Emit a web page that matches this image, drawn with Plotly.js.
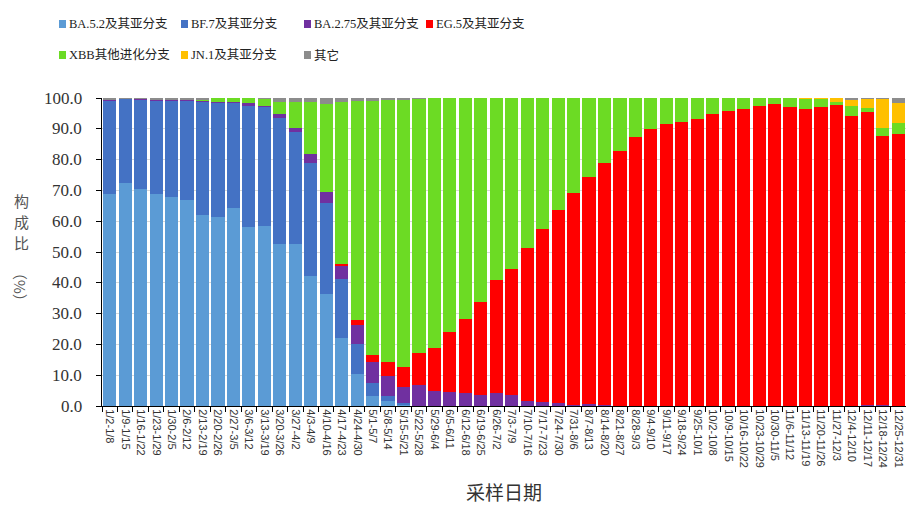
<!DOCTYPE html>
<html>
<head>
<meta charset="utf-8">
<script src="https://cdn.plot.ly/plotly-3.0.1.min.js"></script>
<style>html,body{margin:0;padding:0;background:#fff;}#chart{width:906px;height:505px;}</style>
</head>
<body>
<div id="chart"></div>
<script>
const weeks = ["1/2-1/8","1/9-1/15","1/16-1/22","1/23-1/29","1/30-2/5","2/6-2/12","2/13-2/19","2/20-2/26","2/27-3/5","3/6-3/12","3/13-3/19","3/20-3/26","3/27-4/2","4/3-4/9","4/10-4/16","4/17-4/23","4/24-4/30","5/1-5/7","5/8-5/14","5/15-5/21","5/22-5/28","5/29-6/4","6/5-6/11","6/12-6/18","6/19-6/25","6/26-7/2","7/3-7/9","7/10-7/16","7/17-7/23","7/24-7/30","7/31-8/6","8/7-8/13","8/14-8/20","8/21-8/27","8/28-9/3","9/4-9/10","9/11-9/17","9/18-9/24","9/25-10/1","10/2-10/8","10/9-10/15","10/16-10/22","10/23-10/29","10/30-11/5","11/6-11/12","11/13-11/19","11/20-11/26","11/27-12/3","12/4-12/10","12/11-12/17","12/18-12/24","12/25-12/31"];
const yTicks = [0,10,20,30,40,50,60,70,80,90,100];

const ba52 = [68.8,72.3,70.6,68.8,67.7,66.8,61.9,61.5,64.3,58.1,58.4,52.6,52.6,42.2,36.4,22.0,10.4,3.2,1.5,0.2,0,0,0,0,0,0,0,0,0,0,0,0,0,0,0,0,0,0,0,0,0,0,0,0,0,0,0,0,0,0,0,0];
const bf7 = [30.1,27.4,28.8,30.2,31.3,32.2,36.8,37.0,34.2,39.3,38.6,40.9,36.5,36.6,29.6,19.1,9.7,4.2,1.7,0.7,0,0,0,0,0,0,0,0,0,0,0,0,0,0,0,0,0,0,0,0,0,0,0,0,0,0,0,0,0,0,0,0];
const ba275 = [0.4,0.1,0.3,0.3,0.3,0.3,0.2,0.2,0.2,0.9,0.4,1.2,1.3,3.0,3.4,4.4,6.1,6.9,6.5,5.4,6.8,5.0,4.7,4.3,3.6,4.1,3.6,1.7,1.3,0.9,0.2,0.5,0.2,0.1,0,0,0,0,0,0,0,0,0,0,0,0,0,0,0,0.3,0.4,0];
const eg5 = [0,0,0,0,0,0,0,0,0,0,0,0,0,0,0,0.6,1.6,2.3,4.6,6.3,10.3,13.7,19.2,23.8,30.1,36.7,40.8,49.5,56.1,62.7,68.8,73.7,78.6,82.8,87.4,89.8,91.6,92.2,93.2,94.8,95.9,96.3,97.4,98.1,97.0,96.3,97.0,97.7,94.3,95.3,87.3,88.3];
const xbb = [0,0,0,0,0,0,0.3,1.3,1.3,1.7,2.2,4.1,8.3,16.9,28.7,52.6,71.3,82.5,85.1,86.8,82.5,81.3,76.1,71.9,66.3,59.2,55.6,48.8,42.6,36.4,31.0,25.8,21.2,17.1,12.6,10.2,8.4,7.8,6.8,5.2,4.1,3.7,2.6,1.9,3.0,3.4,2.6,1.1,3.1,1.0,2.5,3.5];
const jn1 = [0,0,0,0,0,0,0,0,0,0,0,0,0,0,0,0,0,0,0,0,0,0,0,0,0,0,0,0,0,0,0,0,0,0,0,0,0,0,0,0,0,0,0,0,0,0.2,0.3,1.2,2.0,3.0,9.6,6.7];
const others = [0.7,0.2,0.3,0.7,0.7,0.7,0.8,0,0,0,0.4,1.2,1.3,1.3,1.9,1.3,0.9,0.9,0.6,0.6,0.4,0,0,0,0,0,0,0,0,0,0,0,0,0,0,0,0,0,0,0,0,0,0,0,0,0.1,0.1,0,0.6,0.4,0.2,1.5];

const seriesNames = ["BA.5.2及其亚分支","BF.7及其亚分支","BA.2.75及其亚分支","EG.5及其亚分支","XBB其他进化分支","JN.1及其亚分支","其它"];
const seriesValues = [ba52, bf7, ba275, eg5, xbb, jn1, others];
const seriesColors = ["#5B9BD5","#4472C4","#7030A0","#FF0000","#6CDB24","#FFC000","#8C8C8C"];
const yTitleChars = ["构","成","比"];

const serif = '"Liberation Serif", "Noto Sans CJK SC", serif';
const cjk = '"Noto Sans CJK SC", sans-serif';

const W = 906, H = 505, ML = 102, MR = 0, MT = 98, MB = 99;
const PW = W - ML - MR, PH = H - MT - MB;
const px = v => (v - ML) / PW;
const py = v => (H - MB - v) / PH;

const traces = seriesNames.map((n, i) => ({
  type: "bar",
  name: n,
  x: weeks,
  y: seriesValues[i],
  marker: {color: seriesColors[i]},
  hoverinfo: "x+y+name"
}));

// legend layout (pixel positions of legend entries)
const legendCols = [59, 181, 304, 426];
const legendRows = [24, 55];
const shapes = [], annotations = [];
seriesNames.forEach((n, i) => {
  const col = i % 4, row = Math.floor(i / 4);
  const x0 = legendCols[col], yc = legendRows[row];
  shapes.push({type: "rect", xref: "paper", yref: "paper",
    x0: px(x0), x1: px(x0 + 7), y0: py(yc + 4), y1: py(yc - 4),
    fillcolor: seriesColors[i], line: {width: 0}});
  annotations.push({xref: "paper", yref: "paper", x: px(x0 + 8), y: py(yc),
    xanchor: "left", yanchor: "middle", showarrow: false, text: n,
    font: {family: serif, size: 12.5, color: "#222"}});
});
// y tick labels, placed on the y scale
yTicks.forEach(v => {
  annotations.push({xref: "paper", yref: "y", x: px(83), y: v, xanchor: "right", yanchor: "middle",
    text: v.toFixed(1), showarrow: false, borderpad: 0,
    font: {family: serif, size: 17, color: "#333"}});
});
yTitleChars.forEach((c, k) => {
  annotations.push({xref: "paper", yref: "paper", x: px(21), y: py(200 + 21 * k), xanchor: "center", yanchor: "middle",
    text: c, showarrow: false, borderpad: 0, font: {family: cjk, size: 15, color: "#555"}});
});
annotations.push({xref: "paper", yref: "paper", x: px(21), y: py(287), xanchor: "center", yanchor: "middle",
  text: "（%）", textangle: 90, showarrow: false, borderpad: 0, font: {family: cjk, size: 15, color: "#555"}});

const layout = {
  width: W, height: H,
  margin: {l: ML, r: MR, t: MT, b: MB},
  paper_bgcolor: "#fff", plot_bgcolor: "#fff",
  barmode: "stack",
  bargap: 0.15,
  showlegend: false,
  xaxis: {
    type: "category",
    tickangle: 90,
    tickson: "boundaries",
    ticks: "outside", ticklen: 5, tickcolor: "#000",
    showline: true, linecolor: "#000", linewidth: 1,
    showgrid: false,
    tickfont: {family: '"Liberation Sans", Arial, sans-serif', size: 11, color: "#333"},
    title: {text: "采样日期", font: {family: cjk, size: 19, color: "#333"}, standoff: 25},
    range: [-0.5, weeks.length - 0.5],
    automargin: false
  },
  yaxis: {
    range: [0, 100],
    tickvals: yTicks,
    showticklabels: false,
    ticks: "outside", ticklen: 5, tickcolor: "#000",
    showline: true, linecolor: "#000", linewidth: 1,
    showgrid: true, gridcolor: "#D9D9D9", gridwidth: 1,
    zeroline: false,
    automargin: false
  },
  shapes: shapes,
  annotations: annotations
};

Plotly.newPlot("chart", traces, layout, {displayModeBar: false, staticPlot: true});
</script>
</body>
</html>
